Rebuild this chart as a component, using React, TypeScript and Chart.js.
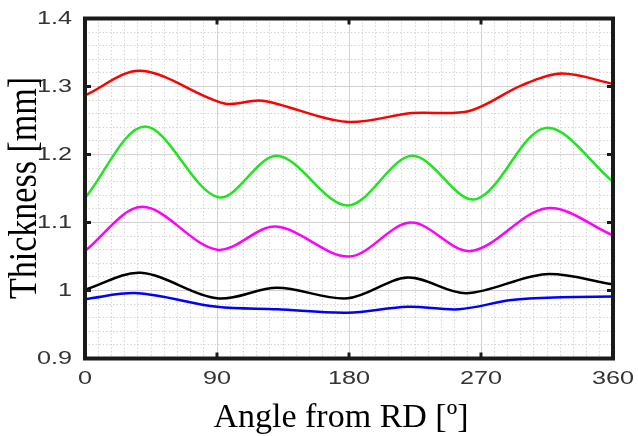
import React, { useEffect, useRef } from "react";
import { Chart, registerables } from "chart.js";

Chart.register(...registerables);

// ---- Data ----
const xTickValues = [0, 90, 180, 270, 360];
const xTickLabels = ["0", "90", "180", "270", "360"];
const yTickValues = [0.9, 1.0, 1.1, 1.2, 1.3, 1.4];
const yTickLabels = ["0.9", "1", "1.1", "1.2", "1.3", "1.4"];
const xMinorStep = 9;
const yMinorStep = 0.02;

const redAngles = [0, 38, 95, 121, 178, 223, 262, 298, 325, 360];
const redValues = [1.287, 1.323, 1.275, 1.279, 1.248, 1.261, 1.264, 1.302, 1.319, 1.304];

const greenAngles = [0, 41, 91, 131, 179, 223, 266, 314, 360];
const greenValues = [1.136, 1.241, 1.137, 1.198, 1.125, 1.198, 1.134, 1.239, 1.16];

const magentaAngles = [0, 39, 90, 130, 180, 222, 263, 315, 360];
const magentaValues = [1.058, 1.123, 1.06, 1.094, 1.05, 1.1, 1.058, 1.121, 1.081];

const blackAngles = [0, 38, 90, 131, 179, 220, 260, 314, 360];
const blackValues = [1.001, 1.026, 0.9885, 1.004, 0.9885, 1.019, 0.996, 1.024, 1.009];

const blueAngles = [0, 36, 90, 131, 179, 220, 255, 291, 325, 360];
const blueValues = [0.9875, 0.996, 0.976, 0.9724, 0.9674, 0.9762, 0.9724, 0.986, 0.99, 0.991];

const xTitle = "Angle from RD [º]";
const yTitle = "Thickness [mm]";

// ---- helpers ----
const toPoints = (xs: number[], ys: number[]) => xs.map((x, i) => ({ x, y: ys[i] }));

const minorTicks = (min: number, max: number, step: number, majors: number[]) => {
  const out: number[] = [];
  const n = Math.round((max - min) / step);
  for (let i = 0; i <= n; i++) {
    const v = Math.round((min + i * step) * 1000) / 1000;
    if (!majors.some((m) => Math.abs(m - v) < 1e-6)) out.push(v);
  }
  return out;
};

const framePlugin = {
  id: "frameAndLabels",
  afterDraw(chart: any) {
    const { ctx, chartArea: a, scales } = chart;
    const xs = scales.x;
    const ys = scales.y;
    ctx.save();
    // frame
    ctx.strokeStyle = "#1a1a1a";
    ctx.lineWidth = 4;
    ctx.strokeRect(a.left, a.top, a.right - a.left, a.bottom - a.top);
    // inner tick marks
    ctx.lineWidth = 3;
    const seg = (x1: number, y1: number, x2: number, y2: number) => {
      ctx.beginPath();
      ctx.moveTo(x1, y1);
      ctx.lineTo(x2, y2);
      ctx.stroke();
    };
    xTickValues.forEach((v) => {
      const px = xs.getPixelForValue(v);
      if (px <= a.left + 1 || px >= a.right - 1) return;
      seg(px, a.top, px, a.top + 6);
      seg(px, a.bottom, px, a.bottom - 6);
    });
    yTickValues.forEach((v) => {
      const py = ys.getPixelForValue(v);
      if (py <= a.top + 1 || py >= a.bottom - 1) return;
      seg(a.left, py, a.left + 6, py);
      seg(a.right, py, a.right - 6, py);
    });
    // tick labels (horizontally stretched sans)
    ctx.fillStyle = "#333333";
    ctx.font = '18px "Liberation Sans", Arial, sans-serif';
    ctx.textBaseline = "middle";
    const stretched = (text: string, x: number, y: number, align: CanvasTextAlign) => {
      ctx.save();
      ctx.translate(x, y);
      ctx.scale(1.4, 1);
      ctx.textAlign = align;
      ctx.fillText(text, 0, 0);
      ctx.restore();
    };
    xTickValues.forEach((v, i) => {
      stretched(xTickLabels[i], xs.getPixelForValue(v), a.bottom + 21, "center");
    });
    yTickValues.forEach((v, i) => {
      stretched(yTickLabels[i], a.left - 13, ys.getPixelForValue(v) + 1, "right");
    });
    // axis titles
    ctx.fillStyle = "#000";
    ctx.font = '34px "Liberation Serif", "Times New Roman", serif';
    ctx.textBaseline = "alphabetic";
    ctx.textAlign = "center";
    ctx.fillText(xTitle, 341, 427);
    ctx.save();
    ctx.translate(36, 188);
    ctx.rotate(-Math.PI / 2);
    ctx.scale(1, 1.15);
    ctx.fillText(yTitle, 0, 0);
    ctx.restore();
    ctx.restore();
  },
};

export default function App() {
  const ref = useRef<HTMLCanvasElement | null>(null);

  useEffect(() => {
    if (!ref.current) return;
    const xMinor = minorTicks(0, 360, xMinorStep, xTickValues);
    const yMinor = minorTicks(0.9, 1.4, yMinorStep, yTickValues);

    const hiddenAxis = (min: number, max: number, values: number[], horizontal: boolean, dashed: boolean, pos: string) => ({
      type: "linear",
      position: pos,
      min,
      max,
      afterBuildTicks: (s: any) => {
        s.ticks = values.map((v) => ({ value: v }));
      },
      afterFit: (s: any) => {
        if (horizontal) s.height = 0;
        else s.width = 0;
      },
      ticks: { display: false },
      grid: {
        display: true,
        drawTicks: false,
        color: dashed ? "#d6d6d6" : "#d2d2d2",
        lineWidth: 1,
        borderDash: dashed ? [1.5, 2] : [],
      },
      border: { display: false, dash: dashed ? [1.5, 2] : [] },
    });

    const ds = (label: string, xs: number[], ys: number[], color: string) => ({
      label,
      data: toPoints(xs, ys),
      borderColor: color,
      backgroundColor: color,
      borderWidth: 2.5,
      pointRadius: 0,
      fill: false,
      tension: 0.33,
    });

    const chart = new Chart(ref.current, {
      type: "line",
      data: {
        datasets: [
          ds("red", redAngles, redValues, "#ff0000"),
          ds("green", greenAngles, greenValues, "#1ee61e"),
          ds("magenta", magentaAngles, magentaValues, "#ff00ff"),
          ds("black", blackAngles, blackValues, "#000000"),
          ds("blue", blueAngles, blueValues, "#0000ff"),
        ],
      } as any,
      options: {
        animation: false,
        responsive: false,
        devicePixelRatio: 1,
        layout: { padding: { left: 85, right: 25, top: 18.5, bottom: 77.5 } },
        plugins: { legend: { display: false }, tooltip: { enabled: false } },
        scales: {
          xMinor: hiddenAxis(0, 360, xMinor, true, true, "bottom"),
          yMinor: hiddenAxis(0.9, 1.4, yMinor, false, true, "left"),
          x: hiddenAxis(0, 360, xTickValues, true, false, "bottom"),
          y: hiddenAxis(0.9, 1.4, yTickValues, false, false, "left"),
        },
      } as any,
      plugins: [framePlugin],
    });
    return () => chart.destroy();
  }, []);

  return (
    <div style={{ position: "fixed", left: 0, top: 0, width: 638, height: 436, background: "#fff" }}>
      <canvas ref={ref} width={638} height={436} style={{ display: "block" }} />
    </div>
  );
}
